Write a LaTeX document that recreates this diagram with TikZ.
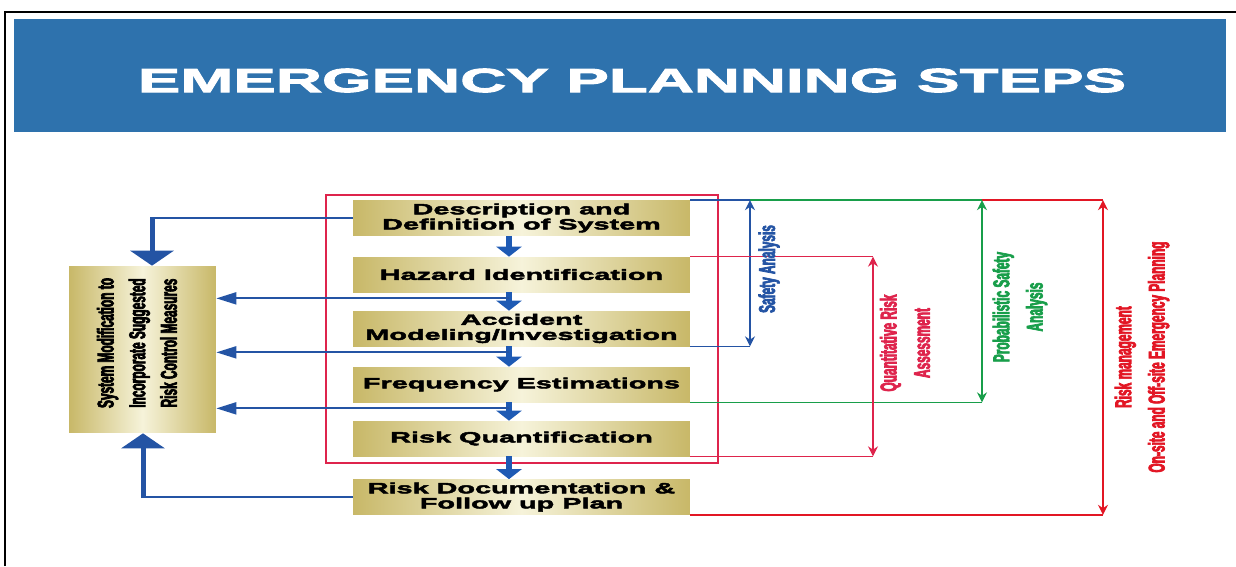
\documentclass[tikz,border=0pt]{standalone}
\usepackage{fontspec}
\setmainfont{Liberation Sans}
\newfontfamily\titlefont[FakeStretch=1.91,FakeBold=3]{Liberation Sans}
\newfontfamily\stepfont[FakeStretch=1.93,FakeBold=3]{Liberation Sans}
\newfontfamily\narrowfont[FakeStretch=0.52,FakeBold=3]{Liberation Sans}
\usepackage{xcolor}
\usetikzlibrary{calc, arrows.meta}

\definecolor{titleblue}{RGB}{46,114,173}
\definecolor{flowblue}{RGB}{36,84,164}
\definecolor{arrowblue}{RGB}{30,90,180}
\definecolor{qrared}{RGB}{222,36,76}
\definecolor{rmred}{RGB}{226,22,36}
\definecolor{psagreen}{RGB}{24,158,74}
\definecolor{stepdark}{RGB}{200,184,104}
\definecolor{steplight}{RGB}{246,243,218}

\tikzset{
	stepbox/.style={minimum width=6.74cm, minimum height=0.7cm, inner sep=0pt,
		left color=stepdark, right color=stepdark, middle color=steplight,
		align=center, font=\stepfont\bfseries\fontsize{8.5}{8.6}\selectfont},
	sidebox/.style={minimum width=2.94cm, minimum height=3.34cm, inner sep=0pt,
		left color=stepdark, right color=stepdark, middle color=steplight},
	sidelabel/.style={align=center, font=\narrowfont\bfseries\fontsize{13}{18}\selectfont},
	dimlabel/.style={align=center, font=\narrowfont\bfseries\fontsize{13}{19}\selectfont},
	downarr/.style={arrowblue, line width=1.2mm, -{Triangle[length=2mm,width=5mm]}},
	flowline/.style={flowblue, line width=0.4mm},
	feedarr/.style={flowline, -{Triangle[length=4mm,width=2.4mm]}},
	bigarr/.style={flowblue, line width=1mm, -{Triangle[length=3mm,width=8.6mm]}},
	dimarr/.style={line width=0.3mm, {Stealth[length=2mm,width=2mm]}-{Stealth[length=2mm,width=2mm]}}
}

\begin{document}
\begin{tikzpicture}[x=0.02cm, y=-0.02cm]
	\useasboundingbox (0,0) rectangle (1236,566);
	
	% frame and title
	\draw [line width=0.4mm] (5,566) -- (5,12) -- (1236,12);
	\fill [titleblue] (14,19) rectangle (1226,132);
	\node [anchor=base, text=white, inner sep=0pt, font=\titlefont\bfseries\fontsize{19}{22}\selectfont] (title) at (632,92) {EMERGENCY PLANNING STEPS};
	
	% steps
	\node [stepbox] (s1) at (521.5,218) {Description and\\Definition of System};
	\node [stepbox] (s2) at (521.5,274.5) {Hazard Identification};
	\node [stepbox] (s3) at (521.5,328.5) {Accident\\Modeling/Investigation};
	\node [stepbox] (s4) at (521.5,384.5) {Frequency Estimations};
	\node [stepbox] (s5) at (521.5,438.5) {Risk Quantification};
	\node [stepbox] (s6) at (521.5,497) {Risk Documentation \&\\Follow up Plan};
	
	\draw [qrared, line width=0.3mm] (326,195) rectangle (718,463);
	
	% side box
	\node [sidebox] (sm) at (142.5,349.5) {};
	\node [sidelabel, rotate=90] (smtext) at (137,343) {System Modification to\\Incorporate Suggested\\Risk Control Measures};
	
	\coordinate (ax) at (509,0);
	\coordinate (tk) at (152,0);
	\coordinate (bk) at (143,0);
	
	\foreach \a/\b in {s1/s2, s2/s3, s3/s4, s4/s5, s5/s6}
		\draw [downarr] (\a.south -| ax) -- (\b.north -| ax);
	
	\foreach \s in {s2, s3, s4} {
		\coordinate (f\s) at ($ (\s.south -| ax) + (0,6) $);
		\draw [feedarr] (f\s) -- (f\s -| sm.east);
	}
	
	\draw [flowline] (s1.west) -- (s1.west -| tk);
	\draw [bigarr] ($ (s1.west -| tk) + (0,-1) $) -- (tk |- sm.north);
	\draw [flowline] (s6.west) -- (s6.west -| bk);
	\draw [bigarr] ($ (s6.west -| bk) + (0,1) $) -- (bk |- sm.south);
	
	% brackets on the right
	\coordinate (xsa) at (750,0);
	\coordinate (xqra) at (873,0);
	\coordinate (xpsa) at (982,0);
	\coordinate (xrm) at (1103,0);
	
	\draw [rmred, line width=0.3mm] (s1.north east) -- (s1.north east -| xrm);
	\draw [rmred, line width=0.3mm] (s6.south east) -- (s6.south east -| xrm);
	\draw [dimarr, rmred] (s1.north east -| xrm) -- (s6.south east -| xrm);
	
	\draw [psagreen, line width=0.3mm] (s1.north east) -- (s1.north east -| xpsa);
	\draw [psagreen, line width=0.3mm] (s4.south east) -- (s4.south east -| xpsa);
	\draw [dimarr, psagreen] (s1.north east -| xpsa) -- (s4.south east -| xpsa);
	
	\draw [flowblue, line width=0.3mm] (s1.north east) -- (s1.north east -| xsa);
	\draw [flowblue, line width=0.3mm] (s3.south east) -- (s3.south east -| xsa);
	\draw [dimarr, flowblue] (s1.north east -| xsa) -- (s3.south east -| xsa);
	
	\draw [qrared, line width=0.3mm] (s2.north east) -- (s2.north east -| xqra);
	\draw [qrared, line width=0.3mm] (s5.south east) -- (s5.south east -| xqra);
	\draw [dimarr, qrared] (s2.north east -| xqra) -- (s5.south east -| xqra);
	
	\node [dimlabel, text=flowblue, rotate=90] (lsa) at (769,269) {Safety Analysis};
	\node [dimlabel, text=qrared, rotate=90] (lqra) at (905,343) {Quantitative Risk\\Assessment};
	\node [dimlabel, text=psagreen, rotate=90] (lpsa) at (1020,307) {Probabilistic Safety\\Analysis};
	\node [dimlabel, text=rmred, rotate=90] (lrm) at (1142,357) {Risk management\\On-site and Off-site Emergency Planning};
\end{tikzpicture}
\end{document}
